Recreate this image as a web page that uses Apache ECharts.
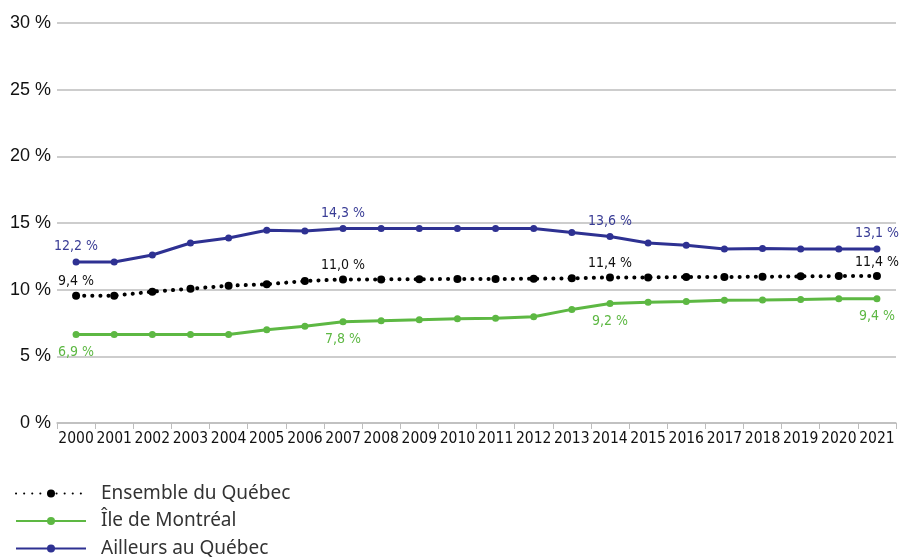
<!DOCTYPE html>
<html>
<head>
<meta charset="utf-8">
<script src="https://cdn.jsdelivr.net/npm/echarts@6/dist/echarts.min.js"></script>
<style>
  html, body { margin: 0; padding: 0; background: #fff; }
  #chart { width: 901px; height: 558px; }
</style>
</head>
<body>
<div id="chart"></div>
<script>
// années
const years = ["2000", "2001", "2002", "2003", "2004", "2005", "2006", "2007", "2008", "2009", "2010",
  "2011", "2012", "2013", "2014", "2015", "2016", "2017", "2018", "2019", "2020", "2021"];

// valeurs (%)
const ensembleQc = [9.55, 9.55, 9.85, 10.07, 10.3, 10.4, 10.65, 10.77, 10.77, 10.78, 10.8,
  10.8, 10.82, 10.85, 10.92, 10.92, 10.95, 10.95, 10.97, 11.0, 11.02, 11.02];
const ileMontreal = [6.64, 6.64, 6.64, 6.64, 6.64, 7.0, 7.26, 7.59, 7.67, 7.74, 7.82,
  7.86, 7.97, 8.52, 8.97, 9.05, 9.12, 9.2, 9.22, 9.27, 9.32, 9.32];
const ailleursQc = [12.07, 12.07, 12.6, 13.5, 13.88, 14.46, 14.4, 14.59, 14.59, 14.59, 14.59,
  14.59, 14.59, 14.29, 13.98, 13.5, 13.33, 13.05, 13.08, 13.05, 13.05, 13.05];

// étiquettes affichées (indices 2000, 2007, 2014, 2021)
const labelIdx = [0, 7, 14, 21];
const ensembleLabels = ["9,4 %", "11,0 %", "11,4 %", "11,4 %"];
const montrealLabels = ["6,9 %", "7,8 %", "9,2 %", "9,4 %"];
const ailleursLabels = ["12,2 %", "14,3 %", "13,6 %", "13,1 %"];

// graduations
const yTicks = [0, 5, 10, 15, 20, 25, 30];

const chart = echarts.init(document.getElementById("chart"));

// construit les points avec les étiquettes
const withLabels = (values, texts) =>
  values.map((v, i) => {
    const k = labelIdx.indexOf(i);
    if (k < 0) return v;
    return { value: v, label: { show: true, formatter: texts[k] } };
  });

const narrow = "'DejaVu Sans Condensed', 'Liberation Sans', sans-serif";

const labelFont = {
  fontFamily: narrow,
  fontSize: 14,
};

const options = {
  animation: false,
  grid: {
    left: 57,
    right: 5,
    top: 23,
    bottom: 135,
  },
  xAxis: {
    type: "category",
    data: years,
    boundaryGap: true,
    axisLine: { lineStyle: { color: "#bdbdbd", width: 1.5 } },
    axisTick: { show: true, length: 6, lineStyle: { color: "#bdbdbd" } },
    axisLabel: {
      color: "#111",
      fontFamily: narrow,
      fontSize: 15.5,
      margin: 8,
      interval: 0,
    },
  },
  yAxis: {
    type: "value",
    min: yTicks[0],
    max: yTicks[yTicks.length - 1],
    interval: 5,
    axisLine: { show: false },
    axisTick: { show: false },
    splitLine: { lineStyle: { color: "#bdbdbd", width: 1.5 } },
    axisLabel: {
      color: "#111",
      fontFamily: "Liberation Sans",
      fontSize: 18,
      margin: 6,
      formatter: (v) => v + " %",
    },
  },
  legend: {
    orient: "vertical",
    left: 15,
    top: 484,
    height: 120,
    padding: 0,
    itemWidth: 70,
    itemHeight: 10,
    itemGap: 8.5,
    textStyle: {
      fontFamily: "Noto Sans",
      fontSize: 19,
      color: "#333",
      padding: [0, 0, 0, 10],
      lineHeight: 18,
    },
    data: ["Ensemble du Québec", "Île de Montréal", "Ailleurs au Québec"],
  },
  series: [
    {
      name: "Ailleurs au Québec",
      type: "line",
      data: withLabels(ailleursQc, ailleursLabels),
      symbol: "circle",
      symbolSize: 7,
      color: "#2e3192",
      lineStyle: { width: 3, color: "#2e3192" },
      label: {
        show: false,
        position: "top",
        distance: 5,
        color: "#3a3d96",
        ...labelFont,
      },
      z: 3,
    },
    {
      name: "Ensemble du Québec",
      type: "line",
      data: withLabels(ensembleQc, ensembleLabels),
      symbol: "circle",
      symbolSize: 8,
      color: "#000",
      lineStyle: { width: 4, color: "#000", type: [0.1, 8], cap: "round" },
      label: {
        show: false,
        position: "top",
        distance: 3,
        color: "#111",
        ...labelFont,
      },
      z: 4,
    },
    {
      name: "Île de Montréal",
      type: "line",
      data: withLabels(ileMontreal, montrealLabels),
      symbol: "circle",
      symbolSize: 7,
      color: "#5db843",
      lineStyle: { width: 3, color: "#5db843" },
      label: {
        show: false,
        position: "bottom",
        distance: 7,
        color: "#5db843",
        ...labelFont,
      },
      z: 2,
    },
  ],
};

chart.setOption(options);
</script>
</body>
</html>
